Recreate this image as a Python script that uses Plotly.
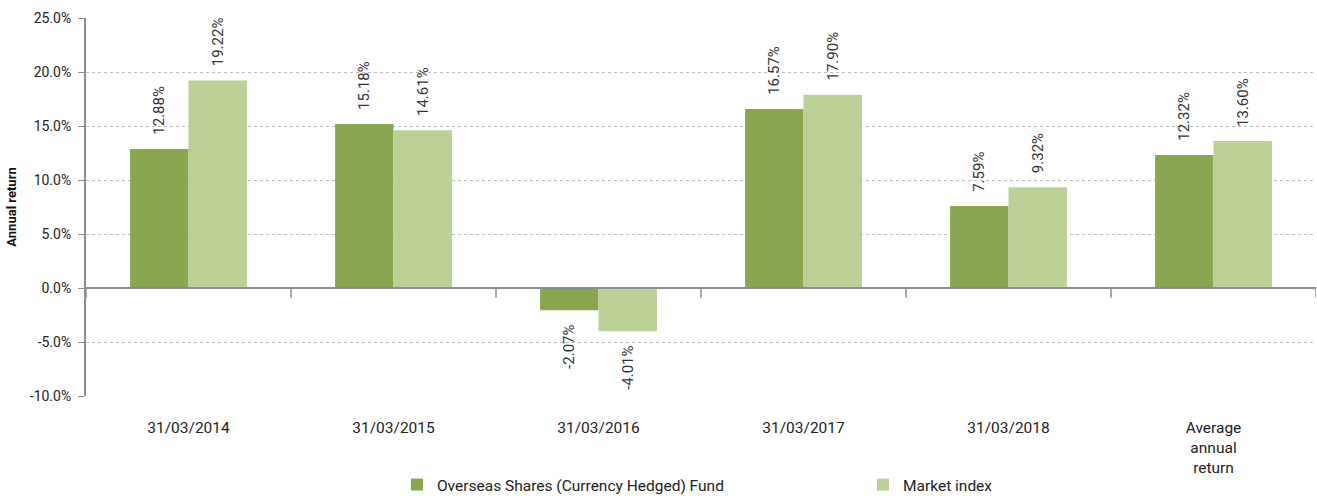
import plotly.graph_objects as go

categories = ["31/03/2014", "31/03/2015", "31/03/2016", "31/03/2017", "31/03/2018", "Average<br>annual<br>return"]
fund_values = [12.88, 15.18, -2.07, 16.57, 7.59, 12.32]
index_values = [19.22, 14.61, -4.01, 17.90, 9.32, 13.60]
series_names = ["Overseas Shares (Currency Hedged) Fund", "Market index"]
y_ticks = [-10, -5, 0, 5, 10, 15, 20, 25]

FONT = "Roboto"
PAD = "\u00a0" * 3


def label(v):
    s = f"{v:.2f}%"
    return PAD + s if v >= 0 else s + PAD


fig = go.Figure()
for name, vals, col, lg in [(series_names[0], fund_values, "#8BA650", "legend"),
                            (series_names[1], index_values, "#BBCF97", "legend2")]:
    fig.add_trace(go.Bar(
        x=list(range(len(categories))), y=vals, name=name, legend=lg,
        marker=dict(color=col, line=dict(width=0)),
        text=[label(v) for v in vals], textposition="outside", textangle=-90,
        constraintext="none",
        textfont=dict(family=FONT, size=15, color="#333333"),
        cliponaxis=False,
    ))

# zero line and category separator ticks
fig.add_shape(type="line", xref="paper", yref="y", x0=0, x1=1, y0=0, y1=0,
              line=dict(color="#8c8c8c", width=2))
for i in range(len(categories) + 1):
    fig.add_shape(type="line", xref="x", yref="y", x0=i - 0.5, x1=i - 0.5, y0=0, y1=-0.9,
                  line=dict(color="#8c8c8c", width=1.5))

legend_common = dict(orientation="h", xanchor="left", yref="container", y=0.0222, yanchor="middle",
                     itemwidth=30, bgcolor="rgba(0,0,0,0)",
                     font=dict(family=FONT, size=15.5, color="#222222"))

fig.update_layout(
    width=1317, height=496,
    margin=dict(l=86, r=1, t=18, b=100),
    paper_bgcolor="white", plot_bgcolor="white",
    barmode="group", bargap=0.43, bargroupgap=0,
    font=dict(family=FONT, size=14, color="#222222"),
    showlegend=True,
    legend=dict(x=0.2528, **legend_common),
    legend2=dict(x=0.6317, **legend_common),
    xaxis=dict(tickmode="array", tickvals=list(range(len(categories))), ticktext=categories,
               range=[-0.5, len(categories) - 0.5], showgrid=False, zeroline=False,
               showline=False, ticks="", ticklabelstandoff=20, automargin=False,
               tickfont=dict(family=FONT, size=15.5, color="#222222")),
    yaxis=dict(range=[-10, 25], tickvals=y_ticks,
               ticktext=[f"{v:.1f}%" for v in y_ticks], automargin=False,
               showgrid=True, gridcolor="#bbbbbb", griddash="dot", gridwidth=1,
               zeroline=False, showline=True, linecolor="#8c8c8c", linewidth=2,
               ticks="outside", ticklen=6, tickcolor="#8c8c8c", ticklabelstandoff=4,
               tickfont=dict(family=FONT, size=14, color="#222222"),
               title=dict(text="<b>Annual return</b>", font=dict(family=FONT, size=13, color="#111111"),
                          standoff=10)),
)

fig.write_html("out.html")
